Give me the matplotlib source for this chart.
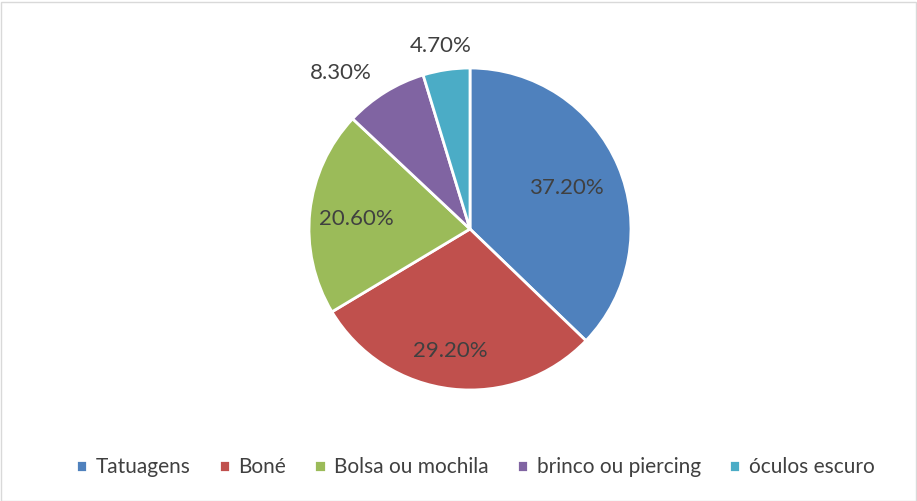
import numpy as np
import matplotlib.pyplot as plt
from matplotlib.patches import Rectangle

labels = ['Tatuagens', 'Boné', 'Bolsa ou mochila', 'brinco ou piercing', 'óculos escuro']
values = [37.2, 29.2, 20.6, 8.3, 4.7]
colors = ['#4F81BD', '#C0504D', '#9BBB59', '#8064A2', '#4BACC6']
# label placement: radial distance (fraction of radius) and angle nudge (deg)
label_r = [0.65, 0.77, 0.71, 1.26, 1.15]
label_da = [0, -2.5, 1, 7.7, 0.5]

plt.rcParams['font.family'] = ['Lato', 'DejaVu Sans']

W, H = 917, 501
fig = plt.figure(figsize=(W / 100, H / 100), dpi=100)
fig.patches.append(Rectangle((0.5 / W, 0.5 / H), (W - 2) / W, (H - 2) / H,
                             transform=fig.transFigure, fill=False,
                             edgecolor='#D9D9D9', linewidth=1))

cx, cy, r = 470, 229, 161
ax = fig.add_axes([(cx - r) / W, (H - cy - r) / H, 2 * r / W, 2 * r / H])
wedges, _ = ax.pie(values, colors=colors, startangle=90, counterclock=False,
                   radius=1, wedgeprops=dict(edgecolor='white', linewidth=2))
ax.set_xlim(-1, 1)
ax.set_ylim(-1, 1)
ax.set_aspect('equal')

for w, v, lr, da in zip(wedges, values, label_r, label_da):
    mid = np.deg2rad((w.theta1 + w.theta2) / 2 + da)
    ax.text(lr * np.cos(mid), lr * np.sin(mid), f'{v:.2f}%',
            ha='center', va='center', fontsize=16, color='#404040')

fig.legend(wedges, labels, loc='lower center', bbox_to_anchor=(0.518, 0.01),
           ncol=5, frameon=False, fontsize=15, handlelength=0.55,
           handleheight=0.55, handletextpad=0.4, columnspacing=1.35,
           labelcolor='#404040')

fig.savefig('out.png', dpi=100)
